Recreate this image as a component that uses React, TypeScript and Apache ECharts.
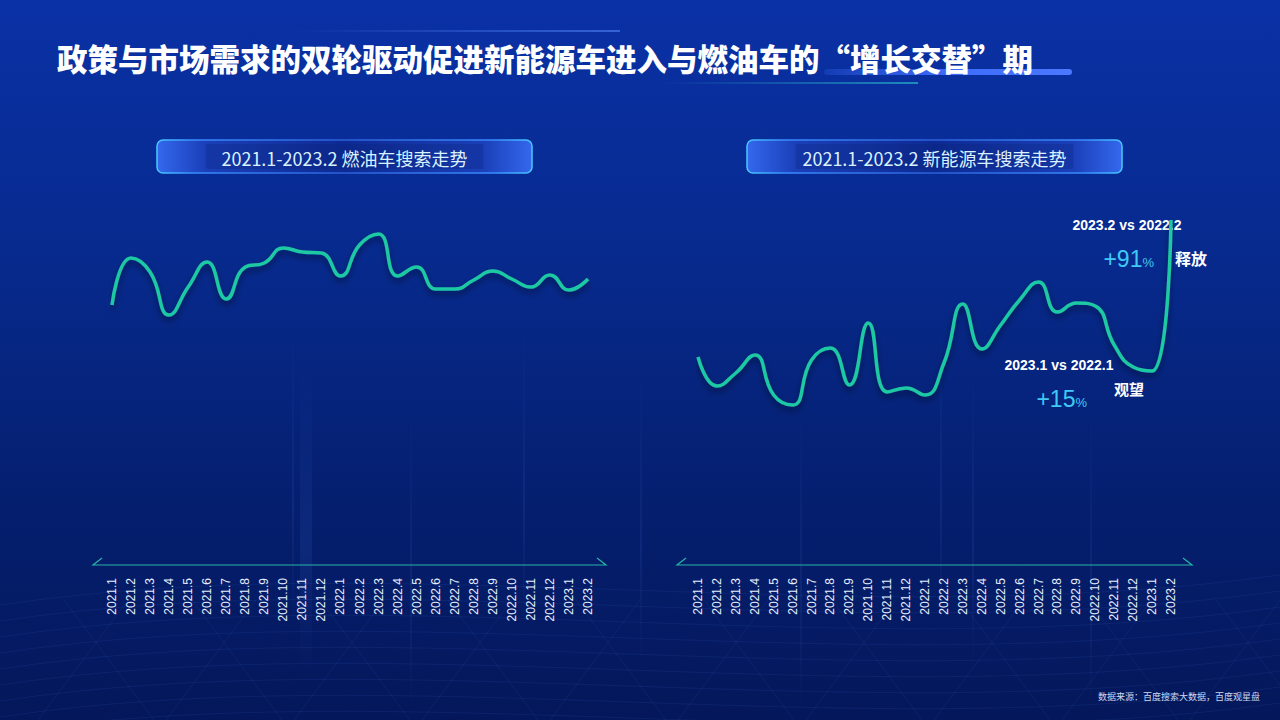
import React, { useEffect, useRef } from "react";
import * as echarts from "echarts";

const months = [
  "2021.1", "2021.2", "2021.3", "2021.4", "2021.5", "2021.6", "2021.7", "2021.8", "2021.9", "2021.10", "2021.11", "2021.12",
  "2022.1", "2022.2", "2022.3", "2022.4", "2022.5", "2022.6", "2022.7", "2022.8", "2022.9", "2022.10", "2022.11", "2022.12",
  "2023.1", "2023.2",
];

// 燃油车搜索指数（相对值）
const fuelValues = [260, 307, 293, 250, 278, 303, 266, 298, 302, 317, 313, 312, 289, 320, 331, 289, 298, 276, 276, 285, 294, 286, 278, 290, 275, 286];
// 新能源车搜索指数（相对值）
const nevValues = [208, 179, 192, 210, 170, 160, 205, 217, 180, 242, 173, 177, 170, 202, 261, 216, 240, 265, 283, 253, 262, 259, 220, 198, 194, 345];

const titleText = "政策与市场需求的双轮驱动促进新能源车进入与燃油车的“增长交替”期";
const leftHeader = "2021.1-2023.2 燃油车搜索走势";
const rightHeader = "2021.1-2023.2 新能源车搜索走势";
const sourceText = "数据来源：百度搜索大数据，百度观星盘";

const LINE_COLOR = "#1ec9a2";
const CJK = "'Noto Sans CJK SC', 'Noto Sans', sans-serif";
const NUM = "'Liberation Sans', Arial, sans-serif";

function headerBox(x: number, y: number, w: number, h: number, text: string) {
  return {
    type: "group",
    children: [
      {
        type: "rect",
        shape: { x, y, width: w, height: h, r: 6 },
        style: {
          fill: new echarts.graphic.LinearGradient(0, 0, 1, 0, [
            { offset: 0, color: "#3468ee" },
            { offset: 0.13, color: "#1a3fb8" },
            { offset: 0.5, color: "#0d2a93" },
            { offset: 0.87, color: "#1a3fb8" },
            { offset: 1, color: "#3468ee" },
          ]),
          stroke: new echarts.graphic.LinearGradient(0, 0, 1, 0, [
            { offset: 0, color: "#46c8ff" },
            { offset: 0.1, color: "#3a8cff" },
            { offset: 0.5, color: "#2b5fd8" },
            { offset: 0.9, color: "#3a8cff" },
            { offset: 1, color: "#46c8ff" },
          ]),
          lineWidth: 1.5,
        },
      },
      {
        type: "rect",
        shape: { x: x + w * 0.13, y: y + 4, width: w * 0.74, height: h - 8, r: 2 },
        style: { fill: "rgba(8,30,110,0.25)" },
      },
      {
        type: "text",
        x: x + w / 2,
        y: y + h / 2 + 1,
        style: {
          text,
          fill: "#d9f2ff",
          fontSize: 18,
          fontFamily: CJK,
          align: "center",
          verticalAlign: "middle",
        },
      },
    ],
  };
}

function tray(x1: number, x2: number, y: number) {
  return {
    type: "polyline",
    shape: { points: [[x1 + 9, y - 7], [x1, y], [x2, y], [x2 - 9, y - 7]] },
    style: { stroke: "#27b3a6", lineWidth: 1.2, fill: "none" },
  };
}

function meshLines() {
  const els: any[] = [];
  for (let k = 0; k < 9; k++) {
    const y0 = 585 + k * 16;
    els.push({
      type: "bezierCurve",
      shape: { x1: 0, y1: y0 + 20, cpx1: 400, cpy1: y0 - 40, cpx2: 850, cpy2: y0 + 50, x2: 1280, y2: y0 - 10 },
      style: { stroke: "rgba(90,140,255,0.09)", lineWidth: 1, fill: "none" },
    });
  }
  for (let k = 0; k < 22; k++) {
    const xt = k * 64;
    els.push({
      type: "line",
      shape: { x1: xt, y1: 600, x2: xt + (k % 2 ? 90 : -90), y2: 720 },
      style: { stroke: "rgba(90,140,255,0.09)", lineWidth: 1 },
    });
  }
  return els;
}

function verticalGlows() {
  const xs = [292, 300, 410, 523, 640, 800, 940, 972, 1090];
  return xs.map((x, i) => ({
    type: "rect",
    shape: { x, y: 330 + (i % 3) * 40, width: i === 1 ? 12 : 2, height: 300 },
    style: {
      fill: new echarts.graphic.LinearGradient(0, 0, 0, 1, [
        { offset: 0, color: "rgba(80,140,255,0)" },
        { offset: 0.6, color: "rgba(80,140,255,0.10)" },
        { offset: 1, color: "rgba(80,140,255,0)" },
      ]),
    },
  }));
}

function makeSeries(data: number[], idx: number) {
  return {
    type: "line",
    xAxisIndex: idx,
    yAxisIndex: idx,
    data,
    smooth: true,
    symbol: "none",
    lineStyle: {
      color: LINE_COLOR,
      width: 3.5,
      shadowColor: "rgba(0,0,20,0.45)",
      shadowBlur: 6,
      shadowOffsetY: 4,
    },
    z: 5,
  };
}

function makeXAxis(idx: number) {
  return {
    type: "category",
    gridIndex: idx,
    data: months,
    boundaryGap: false,
    axisLine: { show: false },
    axisTick: { show: false },
    splitLine: { show: false },
    axisLabel: {
      rotate: 90,
      interval: 0,
      margin: 13,
      color: "#e6eeff",
      fontSize: 12,
      fontFamily: NUM,
    },
  };
}

function makeYAxis(idx: number) {
  return {
    type: "value",
    gridIndex: idx,
    min: 0,
    max: 365,
    show: false,
    splitLine: { show: false },
  };
}

export default function App() {
  const ref = useRef<HTMLDivElement>(null);

  useEffect(() => {
    if (!ref.current) return;
    const chart = echarts.init(ref.current, undefined, { renderer: "svg" });
    chart.setOption({
      animation: false,
      grid: [
        { left: 112, right: 1280 - 588, top: 200, bottom: 155 },
        { left: 698, right: 1280 - 1171, top: 200, bottom: 155 },
      ],
      xAxis: [makeXAxis(0), makeXAxis(1)],
      yAxis: [makeYAxis(0), makeYAxis(1)],
      series: [makeSeries(fuelValues, 0), makeSeries(nevValues, 1)],
      graphic: [
        {
          type: "rect",
          z: -100,
          silent: true,
          shape: { x: 0, y: 0, width: 1280, height: 720 },
          style: {
            fill: new echarts.graphic.LinearGradient(0, 0, 0, 1, [
              { offset: 0, color: "#0a31a6" },
              { offset: 0.35, color: "#072a8e" },
              { offset: 0.7, color: "#051f6f" },
              { offset: 1, color: "#04175a" },
            ]),
          },
        },
        {
          type: "group",
          z: -90,
          silent: true,
          children: [...meshLines(), ...verticalGlows()],
        },
        {
          type: "rect",
          shape: { x: 294, y: 30, width: 326, height: 2 },
          style: {
            fill: new echarts.graphic.LinearGradient(0, 0, 1, 0, [
              { offset: 0, color: "rgba(90,140,255,0)" },
              { offset: 1, color: "rgba(90,140,255,0.55)" },
            ]),
          },
        },
        {
          type: "rect",
          shape: { x: 824, y: 69, width: 248, height: 6, r: 3 },
          style: {
            fill: new echarts.graphic.LinearGradient(0, 0, 1, 0, [
              { offset: 0, color: "rgba(60,110,255,0.2)" },
              { offset: 0.5, color: "#3d6cff" },
              { offset: 1, color: "#4a78ff" },
            ]),
          },
        },
        {
          type: "rect",
          shape: { x: 661, y: 82, width: 257, height: 2 },
          style: {
            fill: new echarts.graphic.LinearGradient(0, 0, 1, 0, [
              { offset: 0, color: "rgba(40,160,200,0)" },
              { offset: 1, color: "rgba(40,180,200,0.7)" },
            ]),
          },
        },
        {
          type: "text",
          x: 57,
          y: 58,
          style: {
            text: titleText,
            fill: "#ffffff",
            fontSize: 30.5,
            fontWeight: 900,
            fontFamily: CJK,
            verticalAlign: "middle",
          },
        },
        headerBox(157, 140, 375, 33, leftHeader),
        headerBox(747, 140, 375, 33, rightHeader),
        tray(93, 606, 565),
        tray(677, 1192, 565),
        {
          type: "text",
          x: 1127,
          y: 225,
          style: {
            text: "2023.2 vs 2022.2",
            fill: "#ffffff",
            fontSize: 14,
            fontWeight: "bold",
            fontFamily: NUM,
            align: "center",
            verticalAlign: "middle",
          },
        },
        {
          type: "text",
          x: 1154,
          y: 259,
          style: {
            text: "{b|+91}{s|%}",
            align: "right",
            verticalAlign: "middle",
            rich: {
              b: { fill: "#3fcaf5", fontSize: 23, fontFamily: NUM },
              s: { fill: "#3fcaf5", fontSize: 13, fontFamily: NUM, padding: [6, 0, 0, 0] },
            },
          },
        },
        {
          type: "text",
          x: 1175,
          y: 258,
          style: {
            text: "释放",
            fill: "#ffffff",
            fontSize: 16,
            fontWeight: "bold",
            fontFamily: CJK,
            verticalAlign: "middle",
          },
        },
        {
          type: "text",
          x: 1059,
          y: 365,
          style: {
            text: "2023.1 vs 2022.1",
            fill: "#ffffff",
            fontSize: 14,
            fontWeight: "bold",
            fontFamily: NUM,
            align: "center",
            verticalAlign: "middle",
          },
        },
        {
          type: "text",
          x: 1087,
          y: 399,
          style: {
            text: "{b|+15}{s|%}",
            align: "right",
            verticalAlign: "middle",
            rich: {
              b: { fill: "#3fcaf5", fontSize: 23, fontFamily: NUM },
              s: { fill: "#3fcaf5", fontSize: 13, fontFamily: NUM, padding: [6, 0, 0, 0] },
            },
          },
        },
        {
          type: "text",
          x: 1114,
          y: 388,
          style: {
            text: "观望",
            fill: "#ffffff",
            fontSize: 15,
            fontWeight: "bold",
            fontFamily: CJK,
            verticalAlign: "middle",
          },
        },
        {
          type: "text",
          x: 1260,
          y: 696,
          style: {
            text: sourceText,
            fill: "#d0d8f0",
            fontSize: 9,
            fontFamily: CJK,
            align: "right",
            verticalAlign: "middle",
          },
        },
      ],
    });
    return () => chart.dispose();
  }, []);

  return (
    <div
      ref={ref}
      style={{ position: "absolute", left: 0, top: 0, width: 1280, height: 720 }}
    />
  );
}
